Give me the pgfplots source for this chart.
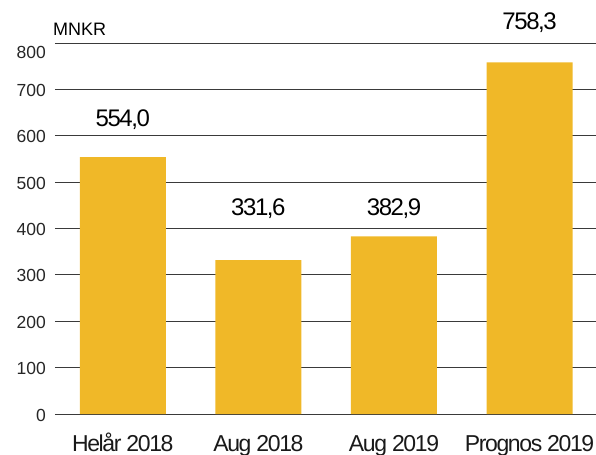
\documentclass[border=0pt]{standalone}
\usepackage{fontspec}
\setmainfont{Liberation Sans}
\newfontfamily\tightfont{Liberation Sans}[LetterSpace=-6]
\usepackage{pgfplots}
\usepackage{pgfplotstable}
\pgfplotsset{compat=1.18}
\definecolor{barc}{HTML}{F0B828}
\definecolor{gridc}{HTML}{3A3A3A}
\pgfplotstableread{
x y label ly
0 554.0 {554,0} 619.5
1 331.6 {331,6} 429.1
2 382.9 {382,9} 429.1
3 758.3 {758,3} 829.5
}\datatable
\begin{document}
\begin{tikzpicture}
\begin{axis}[
  name=ax,
  scale only axis,
  width=541bp, height=371bp,
  xmin=-0.5, xmax=3.49,
  ymin=0, ymax=800,
  axis line style={draw=none},
  ybar, bar width=86bp,
  xtick={0,1,2,3},
  xticklabels={Helår 2018, Aug 2018, Aug 2019, Prognos 2019},
  ytick={0,100,...,700},
  extra y ticks={800},
  extra y tick style={ymajorgrids=true, yticklabel style={yshift=-8.5bp}},
  ymajorgrids=true,
  major grid style={draw=gridc, line width=0.9bp},
  major tick length=0pt,
  /pgf/number format/assume math mode=true,
  yticklabel style={font=\fontsize{17.5bp}{20bp}\selectfont, anchor=east, inner sep=0pt, xshift=-9bp, yshift=-1bp, text=black!85},
  xticklabel style={font=\tightfont\fontsize{23bp}{26bp}\selectfont, anchor=base, inner sep=0pt, yshift=-37bp, text=black!90},
  clip=false,
]
\addplot[fill=barc, draw=none, bar shift=0pt] table[x=x, y=y] {\datatable};
\addplot[fill=none, draw=none, bar shift=0pt,
  point meta=explicit symbolic,
  nodes near coords,
  every node near coord/.style={font=\tightfont\fontsize{24bp}{28bp}\selectfont, anchor=base, inner sep=0pt, text=black}]
  table[x=x, y=ly, meta=label] {\datatable};
\node[anchor=base west, inner sep=0pt, font=\fontsize{18bp}{20bp}\selectfont] at ([xshift=-2bp, yshift=8bp]rel axis cs:0,1) {MNKR};
\end{axis}
\pgfresetboundingbox
\path[use as bounding box] ([xshift=-55bp,yshift=-41bp]ax.south west) rectangle ([yshift=43bp]ax.north east);
\end{tikzpicture}
\end{document}
